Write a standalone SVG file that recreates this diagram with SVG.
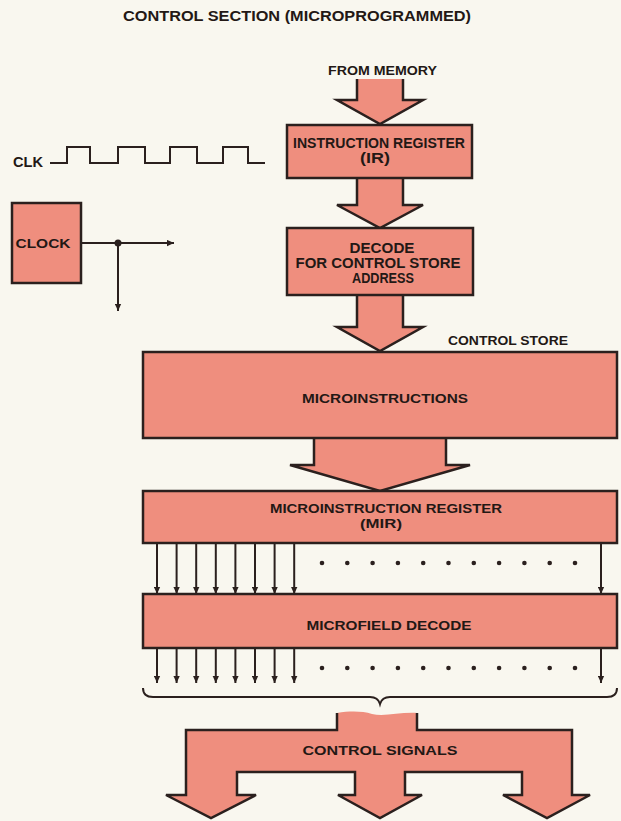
<svg xmlns="http://www.w3.org/2000/svg" width="621" height="821" viewBox="0 0 621 821">
<style>
  .bg { fill: #F9F7EF; }
  .box { fill: #EF8E7E; stroke: #2B201E; stroke-width: 2.5; stroke-linejoin: miter; }
  .blk { fill: #EF8E7E; stroke: #2B201E; stroke-width: 2.5; stroke-linejoin: miter; }
  .fillonly { fill: #EF8E7E; stroke: none; }
  .outl { fill: none; stroke: #2B201E; stroke-width: 2.5; stroke-linejoin: miter; }
  .ln { fill: none; stroke: #2B201E; stroke-width: 2; }
  .sig { fill: none; stroke: #2B201E; stroke-width: 2; marker-end: url(#ah); }
  .dot { fill: #2B201E; }
  text { font-family: "Liberation Sans", Arial, sans-serif; font-weight: bold; fill: #231815; text-anchor: middle; }
  .t13 { font-size: 13px; }
  .t14 { font-size: 14px; }
</style>
<defs>
  <marker id="ah" viewBox="0 0 10 10" refX="10" refY="5" markerWidth="9" markerHeight="7" markerUnits="userSpaceOnUse" orient="auto">
    <path d="M0,0.5 L10,5 L0,9.5 Z" fill="#2B201E"/>
  </marker>
</defs>
<rect class="bg" x="0" y="0" width="621" height="821"/>

<text class="t14" x="297" y="21" textLength="348" lengthAdjust="spacingAndGlyphs">CONTROL SECTION (MICROPROGRAMMED)</text>

<g id="from-memory">
  <text class="t13" x="382.5" y="75" textLength="109" lengthAdjust="spacingAndGlyphs">FROM MEMORY</text>
</g>

<g id="clk">
  <text class="t14" x="28" y="167" textLength="30" lengthAdjust="spacingAndGlyphs">CLK</text>
  <path class="ln" d="M50,163 H67 V147 H90 V163 H118 V147 H145 V163 H170 V147 H197 V163 H223 V147 H248 V163 H265"/>
</g>

<g id="clock">
  <rect class="box" x="12" y="203" width="69" height="80"/>
  <text class="t13" x="43" y="248" textLength="55" lengthAdjust="spacingAndGlyphs">CLOCK</text>
</g>

<g id="connectors">
  <!-- clock outputs -->
  <line class="sig" x1="81" y1="243" x2="174" y2="243"/>
  <line class="sig" x1="118" y1="243" x2="118" y2="311"/>
  <circle class="dot" cx="118" cy="243" r="3.5"/>

  <!-- block arrows -->
  <path class="blk" d="M403,79 V100 H423 L380,124 L337,100 H357 V79"/>
  <path class="blk" d="M403,178 V205 H423 L380,228 L337,205 H357 V178"/>
  <path class="blk" d="M403,295 V327 H423 L380,351 L337,327 H357 V295"/>
  <path class="blk" d="M446,438 V465 H470 L380,491 L290,465 H314 V438"/>

  <!-- MIR to microfield decode -->
  <line class="sig" x1="157" y1="543" x2="157" y2="594"/>
  <line class="sig" x1="176.6" y1="543" x2="176.6" y2="594"/>
  <line class="sig" x1="196.2" y1="543" x2="196.2" y2="594"/>
  <line class="sig" x1="215.8" y1="543" x2="215.8" y2="594"/>
  <line class="sig" x1="235.4" y1="543" x2="235.4" y2="594"/>
  <line class="sig" x1="255" y1="543" x2="255" y2="594"/>
  <line class="sig" x1="274.6" y1="543" x2="274.6" y2="594"/>
  <line class="sig" x1="294.2" y1="543" x2="294.2" y2="594"/>
  <line class="sig" x1="601" y1="543" x2="601" y2="594"/>
  <g>
    <circle class="dot" cx="322" cy="563" r="2.3"/><circle class="dot" cx="347.3" cy="563" r="2.3"/>
    <circle class="dot" cx="372.6" cy="563" r="2.3"/><circle class="dot" cx="397.9" cy="563" r="2.3"/>
    <circle class="dot" cx="423.2" cy="563" r="2.3"/><circle class="dot" cx="448.5" cy="563" r="2.3"/>
    <circle class="dot" cx="473.8" cy="563" r="2.3"/><circle class="dot" cx="499.1" cy="563" r="2.3"/>
    <circle class="dot" cx="524.4" cy="563" r="2.3"/><circle class="dot" cx="549.7" cy="563" r="2.3"/>
    <circle class="dot" cx="575" cy="563" r="2.3"/>
  </g>

  <!-- microfield decode outputs -->
  <line class="sig" x1="157" y1="648" x2="157" y2="683"/>
  <line class="sig" x1="176.6" y1="648" x2="176.6" y2="683"/>
  <line class="sig" x1="196.2" y1="648" x2="196.2" y2="683"/>
  <line class="sig" x1="215.8" y1="648" x2="215.8" y2="683"/>
  <line class="sig" x1="235.4" y1="648" x2="235.4" y2="683"/>
  <line class="sig" x1="255" y1="648" x2="255" y2="683"/>
  <line class="sig" x1="274.6" y1="648" x2="274.6" y2="683"/>
  <line class="sig" x1="294.2" y1="648" x2="294.2" y2="683"/>
  <line class="sig" x1="601" y1="648" x2="601" y2="683"/>
  <g>
    <circle class="dot" cx="322" cy="668" r="2.3"/><circle class="dot" cx="347.3" cy="668" r="2.3"/>
    <circle class="dot" cx="372.6" cy="668" r="2.3"/><circle class="dot" cx="397.9" cy="668" r="2.3"/>
    <circle class="dot" cx="423.2" cy="668" r="2.3"/><circle class="dot" cx="448.5" cy="668" r="2.3"/>
    <circle class="dot" cx="473.8" cy="668" r="2.3"/><circle class="dot" cx="499.1" cy="668" r="2.3"/>
    <circle class="dot" cx="524.4" cy="668" r="2.3"/><circle class="dot" cx="549.7" cy="668" r="2.3"/>
    <circle class="dot" cx="575" cy="668" r="2.3"/>
  </g>

  <!-- brace -->
  <path class="ln" d="M143,688 Q143,697 153,697 H370 Q378,697 380,704 Q382,697 390,697 H607 Q617,697 617,688"/>
</g>

<g id="instruction-register">
  <rect class="box" x="287" y="125" width="185" height="53"/>
  <text class="t14" x="379" y="148" textLength="172" lengthAdjust="spacingAndGlyphs">INSTRUCTION REGISTER</text>
  <text class="t14" x="375" y="163" textLength="30" lengthAdjust="spacingAndGlyphs">(IR)</text>
</g>

<g id="decode">
  <rect class="box" x="287" y="228" width="186" height="67"/>
  <text class="t14" x="382" y="253" textLength="65" lengthAdjust="spacingAndGlyphs">DECODE</text>
  <text class="t14" x="378" y="268" textLength="165" lengthAdjust="spacingAndGlyphs">FOR CONTROL STORE</text>
  <text class="t14" x="383" y="283" textLength="62" lengthAdjust="spacingAndGlyphs">ADDRESS</text>
</g>

<g id="control-store">
  <text class="t13" x="508" y="345" textLength="120" lengthAdjust="spacingAndGlyphs">CONTROL STORE</text>
  <rect class="box" x="143" y="352" width="474" height="86"/>
  <text class="t13" x="385" y="403" textLength="166" lengthAdjust="spacingAndGlyphs">MICROINSTRUCTIONS</text>
</g>

<g id="mir">
  <rect class="box" x="143" y="491" width="474" height="52"/>
  <text class="t13" x="386" y="513" textLength="232" lengthAdjust="spacingAndGlyphs">MICROINSTRUCTION REGISTER</text>
  <text class="t13" x="381" y="528" textLength="42" lengthAdjust="spacingAndGlyphs">(MIR)</text>
</g>

<g id="microfield-decode">
  <rect class="box" x="143" y="594" width="474" height="54"/>
  <text class="t13" x="389" y="630" textLength="165" lengthAdjust="spacingAndGlyphs">MICROFIELD DECODE</text>
</g>

<g id="control-signals">
  <path class="fillonly" d="M337,730 V713 C350,711 362,711 372,714 C384,717 400,712 417,713 V730 H572 V795 H590 L547,818 L503,795 H522 V772 H405 V795 H422 L380,818 L338,795 H355 V772 H237 V795 H256 L211,818 L166,795 H186 V730 Z"/>
  <path class="outl" d="M337,713 V730 H186 V795 H166 L211,818 L256,795 H237 V772 H355 V795 H338 L380,818 L422,795 H405 V772 H522 V795 H503 L547,818 L590,795 H572 V730 H417 V713"/>
  <text class="t13" x="380" y="755" textLength="155" lengthAdjust="spacingAndGlyphs">CONTROL SIGNALS</text>
</g>
</svg>
